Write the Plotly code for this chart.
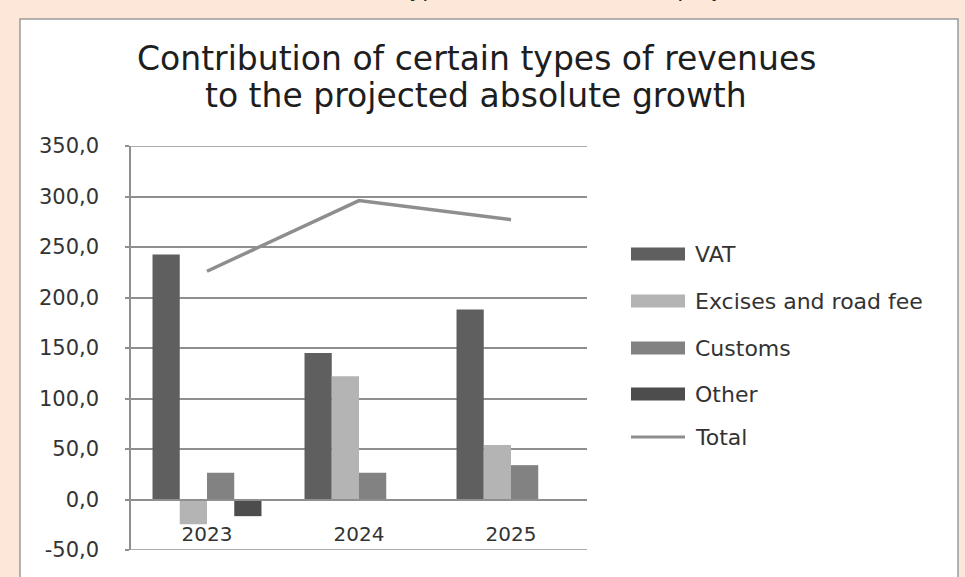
import plotly.graph_objects as go

# ---- data ----
years = ["2023", "2024", "2025"]
vat = [242.5, 145.0, 188.0]
excises = [-24.5, 122.0, 54.0]
customs = [26.5, 26.5, 34.0]
other = [-16.5, 0.0, 0.0]
total = [226.0, 296.0, 277.0]

bar_names = ["VAT", "Excises and road fee", "Customs", "Other"]
bar_values = [vat, excises, customs, other]
bar_colors = ["#5f5f5f", "#b4b4b4", "#828282", "#4d4d4d"]
line_name = "Total"
line_color = "#8e8e8e"

title_lines = ["Contribution of certain types of revenues",
               "to the projected absolute growth"]
caption = "Contribution of certain types of revenues to the projected absolute"

y_min, y_max, y_step = -50, 350, 50
y_ticks = list(range(y_min, y_max + 1, y_step))
y_tick_text = [f"{v:.1f}".replace(".", ",") for v in y_ticks]

# ---- page geometry (pixels) ----
W, H = 965, 577
L, R, T, B = 131, 587, 146, 550
FONT = "DejaVu Sans"
TEXT = "#333333"
GRID = "#8f8f8f"


def fx(px):
    return (px - L) / (R - L)


def fy(py):
    return (B - py) / (B - T)


fig = go.Figure()
for name, vals, col in zip(bar_names, bar_values, bar_colors):
    fig.add_trace(go.Bar(x=years, y=vals, name=name, marker_color=col,
                         marker_line_width=0, showlegend=False))
fig.add_trace(go.Scatter(x=years, y=total, name=line_name, mode="lines",
                         line=dict(color=line_color, width=3.5), showlegend=False))

shapes = [
    # white chart card with grey frame
    dict(type="rect", xref="paper", yref="paper", layer="below",
         x0=fx(20), x1=fx(958), y0=fy(H + 10), y1=fy(19),
         fillcolor="white", line=dict(color="#9a9a9a", width=1.5)),
]
# gridlines on the two ends of the value range
for yv in (y_min, y_max):
    shapes.append(dict(type="line", xref="paper", yref="y", x0=0, x1=1, y0=yv, y1=yv,
                       line=dict(color=GRID, width=1.5)))

annotations = [
    # caption text running off the top edge
    dict(xref="paper", yref="paper", x=fx(143), y=fy(4), yanchor="bottom",
         xanchor="left", showarrow=False, text=caption,
         font=dict(family=FONT, size=22, color="#222222")),
]
# two-line chart title
for txt, yc in zip(title_lines, [58, 95]):
    annotations.append(dict(xref="paper", yref="paper", x=fx(476), y=fy(yc),
                            xanchor="center", yanchor="middle", showarrow=False, text=txt,
                            font=dict(family=FONT, size=33, color="#1e1e1e")))

# legend: swatch + label per series
leg_x0, leg_x1, leg_text_x = 631, 685, 693
leg_rows = [254, 301, 348, 394, 437]
for name, col, yc in zip(bar_names, bar_colors, leg_rows):
    shapes.append(dict(type="rect", xref="paper", yref="paper",
                       x0=fx(leg_x0), x1=fx(leg_x1), y0=fy(yc + 6.5), y1=fy(yc - 6.5),
                       fillcolor=col, line_width=0))
    annotations.append(dict(xref="paper", yref="paper", x=fx(leg_text_x), y=fy(yc),
                            xanchor="left", yanchor="middle", showarrow=False, text=name,
                            font=dict(family=FONT, size=22, color=TEXT)))
shapes.append(dict(type="line", xref="paper", yref="paper",
                   x0=fx(leg_x0), x1=fx(leg_x1), y0=fy(leg_rows[-1]), y1=fy(leg_rows[-1]),
                   line=dict(color=line_color, width=3)))
annotations.append(dict(xref="paper", yref="paper", x=fx(leg_text_x), y=fy(leg_rows[-1]),
                        xanchor="left", yanchor="middle", showarrow=False, text=line_name,
                        font=dict(family=FONT, size=22, color=TEXT)))

fig.update_layout(
    width=W, height=H,
    margin=dict(l=L, r=W - R, t=T, b=H - B, pad=0),
    paper_bgcolor="#fce7d9",
    plot_bgcolor="rgba(0,0,0,0)",
    barmode="group", bargap=0.283, bargroupgap=0,
    font=dict(family=FONT, size=20, color=TEXT),
    shapes=shapes,
    annotations=annotations,
    xaxis=dict(type="category", categoryorder="array", categoryarray=years,
               anchor="free", position=(0 - y_min) / (y_max - y_min),
               showline=True, linecolor=GRID, linewidth=1.5,
               showgrid=False, ticks="", ticklabelstandoff=17,
               tickfont=dict(family=FONT, size=20, color=TEXT)),
    yaxis=dict(range=[y_min, y_max], tickmode="array",
               tickvals=y_ticks, ticktext=y_tick_text,
               showline=True, linecolor=GRID, linewidth=1.5,
               showgrid=True, gridcolor=GRID, gridwidth=1.5, zeroline=False,
               ticks="outside", ticklen=4, tickcolor=GRID, tickwidth=1.5,
               ticklabelstandoff=22,
               tickfont=dict(family=FONT, size=21, color=TEXT)),
)

fig.write_html("out.html")
